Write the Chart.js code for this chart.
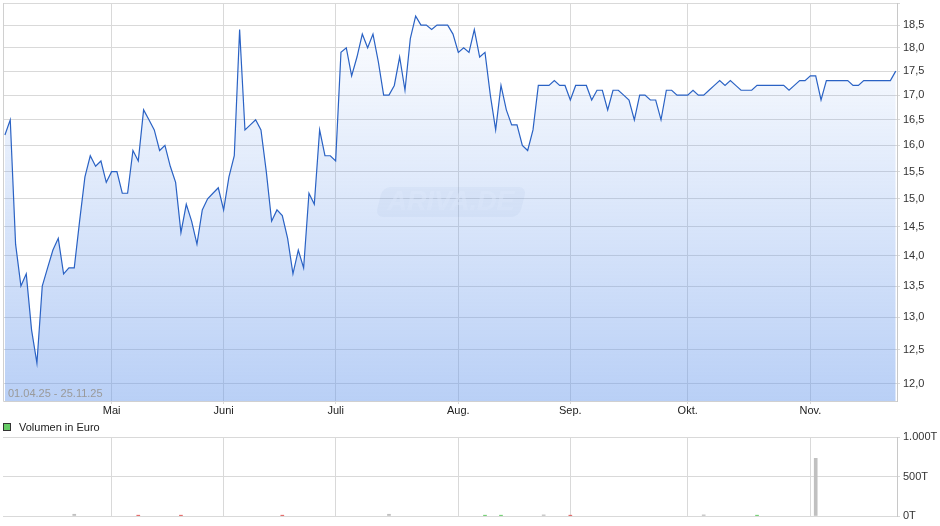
<!DOCTYPE html>
<html>
<head>
<meta charset="utf-8">
<script src="https://cdn.jsdelivr.net/npm/chart.js"></script>
<style>
  html, body { margin: 0; padding: 0; background: #fff; }
  #wrap { position: relative; width: 940px; height: 526px; overflow: hidden; }
  #priceBox { position: absolute; left: 0; top: 0; width: 940px; height: 420px; }
  #volBox { position: absolute; left: 0; top: 420px; width: 940px; height: 106px; }
</style>
</head>
<body>
<div id="wrap">
  <div id="priceBox"><canvas id="priceChart"></canvas></div>
  <div id="volBox"><canvas id="volChart"></canvas></div>
</div>
<script>
// closing prices, one per trading day 01.04.25 - 25.11.25
const prices = [
  16.2, 16.5, 14.2, 13.5, 13.7, 12.8, 12.3, 13.5, 13.8, 14.1,
  14.3, 13.7, 13.8, 13.8, 14.6, 15.4, 15.8, 15.6, 15.7, 15.3,
  15.5, 15.5, 15.1, 15.1, 15.9, 15.7, 16.7, 16.5, 16.3, 15.9,
  16.0, 15.6, 15.3, 14.4, 14.9, 14.6, 14.2, 14.8, 15.0, 15.1,
  15.2, 14.8, 15.4, 15.8, 18.4, 16.3, 16.4, 16.5, 16.3, 15.5,
  14.6, 14.8, 14.7, 14.3, 13.7, 14.1, 13.8, 15.1, 14.9, 16.3,
  15.8, 15.8, 15.7, 17.9, 18.0, 17.4, 17.8, 18.3, 18.0, 18.3,
  17.7, 17.0, 17.0, 17.2, 17.8, 17.1, 18.2, 18.7, 18.5, 18.5,
  18.4, 18.5, 18.5, 18.5, 18.3, 17.9, 18.0, 17.9, 18.4, 17.8,
  17.9, 17.0, 16.3, 17.2, 16.7, 16.4, 16.4, 16.0, 15.9, 16.3,
  17.2, 17.2, 17.2, 17.3, 17.2, 17.2, 16.9, 17.2, 17.2, 17.2,
  16.9, 17.1, 17.1, 16.7, 17.1, 17.1, 17.0, 16.9, 16.5, 17.0,
  17.0, 16.9, 16.9, 16.5, 17.1, 17.1, 17.0, 17.0, 17.0, 17.1,
  17.0, 17.0, 17.1, 17.2, 17.3, 17.2, 17.3, 17.2, 17.1, 17.1,
  17.1, 17.2, 17.2, 17.2, 17.2, 17.2, 17.2, 17.1, 17.2, 17.3,
  17.3, 17.4, 17.4, 16.9, 17.3, 17.3, 17.3, 17.3, 17.3, 17.2,
  17.2, 17.3, 17.3, 17.3, 17.3, 17.3, 17.3, 17.5
];
const monthLabels = ["Mai", "Juni", "Juli", "Aug.", "Sep.", "Okt.", "Nov."];
const monthStarts = [20, 41, 62, 85, 106, 128, 151];
const priceTicks = [12, 12.5, 13, 13.5, 14, 14.5, 15, 15.5, 16, 16.5, 17, 17.5, 18, 18.5, 19];
// volume in thousand euro, only days with turnover
const volumeDays = [13, 25, 33, 52, 72, 90, 93, 101, 106, 131, 141, 152];
const volumeValues = [22, 10, 10, 10, 22, 10, 10, 14, 10, 14, 10, 730];
const volumeTicks = [0, 500, 1000];
const rangeLabel = "01.04.25 - 25.11.25";

Chart.defaults.font.family = '"Liberation Sans", Arial, sans-serif';
Chart.defaults.font.size = 11;
Chart.defaults.color = "#333";
Chart.defaults.animation = false;

const gridColor = "#d9d9d9";
const xMin = -0.36, xMax = 167.24;

function noPad(axis) {
  axis.paddingTop = 0;
  axis.paddingBottom = 0;
  axis.paddingLeft = 0;
  axis.paddingRight = 0;
}

function monthAxis(showLabels) {
  return {
    type: "linear",
    min: xMin,
    max: xMax,
    offset: false,
    afterBuildTicks: (axis) => { axis.ticks = monthStarts.map((v) => ({ value: v })); },
    afterFit: (axis) => { axis.height = showLabels ? 19 : 10; noPad(axis); },
    grid: { color: gridColor, tickLength: 3, drawTicks: showLabels, offset: false },
    border: { display: false },
    ticks: {
      display: showLabels,
      autoSkip: false,
      maxRotation: 0,
      padding: 0,
      color: "#222",
      callback: (v) => monthLabels[monthStarts.indexOf(v)],
    },
  };
}

const priceDecor = {
  id: "priceDecor",
  beforeDatasetsDraw(chart) {
    const { ctx } = chart;
    // watermark
    ctx.save();
    ctx.translate(451, 202);
    ctx.transform(1, 0, -0.25, 1, 0, 0);
    ctx.fillStyle = "rgba(90,120,170,0.06)";
    ctx.beginPath();
    ctx.roundRect(-72, -15, 144, 30, 8);
    ctx.fill();
    ctx.restore();
    ctx.save();
    ctx.font = 'italic bold 27px "Liberation Sans", Arial, sans-serif';
    ctx.fillStyle = "rgba(255,255,255,0.45)";
    ctx.textAlign = "center";
    ctx.textBaseline = "middle";
    ctx.fillText("ARIVA.DE", 451, 203);
    ctx.restore();
  },
  afterDraw(chart) {
    const { ctx, chartArea: a } = chart;
    ctx.save();
    ctx.strokeStyle = "#d0d0d0";
    ctx.lineWidth = 1;
    ctx.beginPath();
    ctx.moveTo(a.left + 0.5, a.top);
    ctx.lineTo(a.left + 0.5, a.bottom + 0.5);
    ctx.lineTo(a.right, a.bottom + 0.5);
    ctx.stroke();
    ctx.fillStyle = "#9a9a9a";
    ctx.font = '11px "Liberation Sans", Arial, sans-serif';
    ctx.textBaseline = "middle";
    ctx.fillText(rangeLabel, 8, 394);
    ctx.restore();
  },
};

new Chart(document.getElementById("priceChart"), {
  type: "line",
  data: {
    datasets: [{
      data: prices.map((v, i) => ({ x: i, y: v })),
      borderColor: "#2a62c4",
      borderWidth: 1.2,
      pointRadius: 0,
      tension: 0,
      fill: "start",
      backgroundColor: (c) => {
        const a = c.chart.chartArea;
        if (!a) return "rgba(100,150,235,0.2)";
        const g = c.chart.ctx.createLinearGradient(0, a.top, 0, a.bottom);
        g.addColorStop(0, "rgba(100,150,235,0)");
        g.addColorStop(1, "rgba(100,150,235,0.45)");
        return g;
      },
    }],
  },
  options: {
    responsive: true,
    maintainAspectRatio: false,
    layout: { padding: { top: 3, left: 3, right: 0, bottom: 0 } },
    plugins: { legend: { display: false }, tooltip: { enabled: false } },
    scales: {
      x: monthAxis(true),
      y: {
        type: "logarithmic",
        position: "right",
        min: 11.75,
        max: 19,
        afterBuildTicks: (axis) => { axis.ticks = priceTicks.map((v) => ({ value: v })); },
        afterFit: (axis) => { axis.width = 43; noPad(axis); },
        grid: { color: gridColor, tickLength: 3 },
        border: { color: "#c8c8c8" },
        ticks: {
          padding: 3,
          color: "#333",
          callback: (v) => (v >= 19 ? "" : Number(v).toFixed(1).replace(".", ",")),
        },
      },
    },
  },
  plugins: [priceDecor],
});

const volLegend = {
  id: "volLegend",
  afterDraw(chart) {
    const { ctx } = chart;
    ctx.save();
    ctx.fillStyle = "#66cc66";
    ctx.fillRect(3.5, 3.5, 7, 7);
    ctx.strokeStyle = "#333";
    ctx.lineWidth = 1;
    ctx.strokeRect(3.5, 3.5, 7, 7);
    ctx.fillStyle = "#222";
    ctx.font = '11px "Liberation Sans", Arial, sans-serif';
    ctx.textBaseline = "middle";
    ctx.fillText("Volumen in Euro", 19, 8);
    ctx.restore();
  },
};

new Chart(document.getElementById("volChart"), {
  type: "bar",
  data: {
    datasets: [{
      data: volumeDays.map((d, k) => ({ x: d, y: volumeValues[k] })),
      backgroundColor: volumeDays.map((d) =>
        prices[d] > prices[d - 1] ? "#5cc85c" : prices[d] < prices[d - 1] ? "#e0524f" : "#c0c0c0"),
      barThickness: 3,
      borderWidth: 0,
    }],
  },
  options: {
    responsive: true,
    maintainAspectRatio: false,
    layout: { padding: { top: 17, left: 3, right: 0, bottom: 0 } },
    plugins: { legend: { display: false }, tooltip: { enabled: false } },
    scales: {
      x: monthAxis(false),
      y: {
        type: "linear",
        position: "right",
        min: 0,
        max: 1000,
        afterBuildTicks: (axis) => { axis.ticks = volumeTicks.map((v) => ({ value: v })); },
        afterFit: (axis) => { axis.width = 43; noPad(axis); },
        grid: { color: gridColor, tickLength: 3 },
        border: { color: "#c8c8c8" },
        ticks: {
          padding: 3,
          color: "#333",
          callback: (v) => String(v).replace(/\B(?=(\d{3})+(?!\d))/g, ".") + "T",
        },
      },
    },
  },
  plugins: [volLegend],
});
</script>
</body>
</html>
